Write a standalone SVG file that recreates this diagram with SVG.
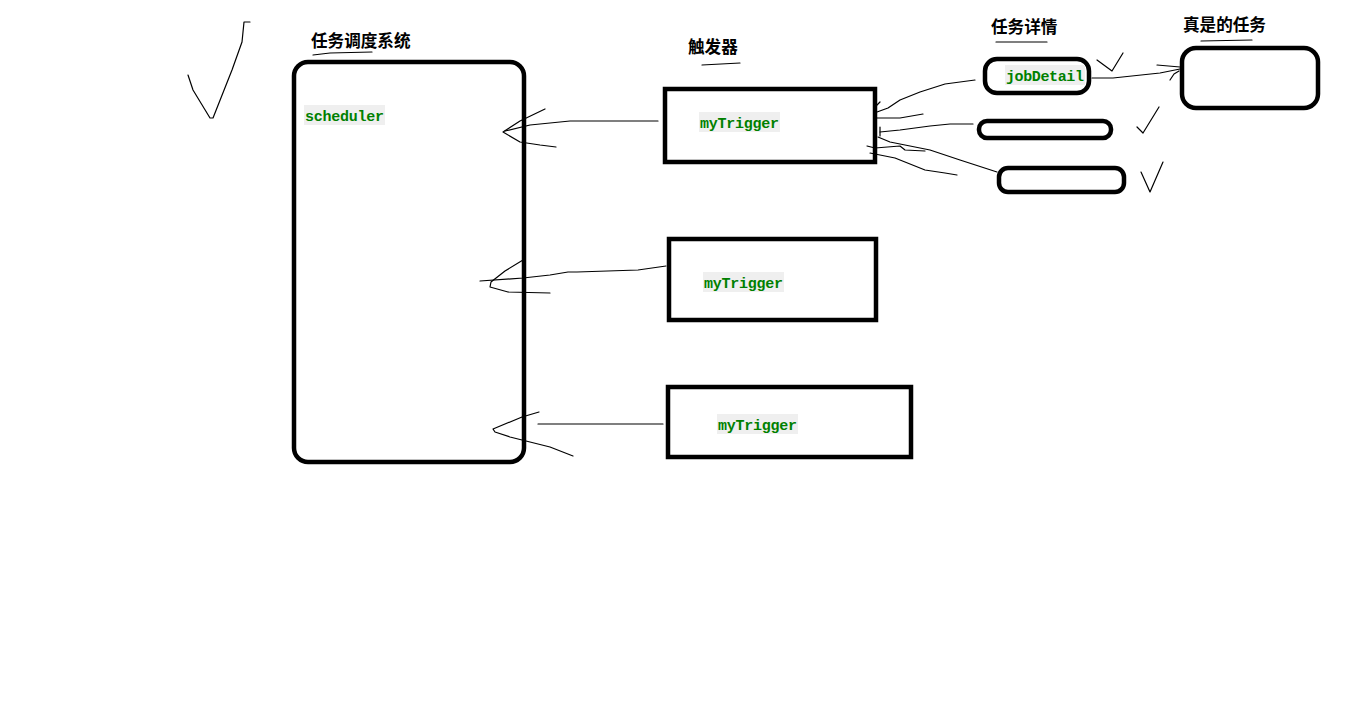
<svg xmlns="http://www.w3.org/2000/svg" width="1353" height="722" viewBox="0 0 1353 722">
<style>
.box{fill:#fff;stroke:#000;stroke-width:4.5}
.hand{fill:none;stroke:#000;stroke-width:1.2;stroke-linejoin:round;stroke-linecap:round}
.title{font-family:"Noto Sans CJK SC","Noto Sans",sans-serif;font-size:16.6px;font-weight:bold;fill:#000}
.code{font-family:"Liberation Mono","DejaVu Sans Mono",monospace;font-size:15px;font-weight:bold;fill:#008000}
.codebg{fill:#efefef}
</style>
<rect x="0" y="0" width="1353" height="722" fill="#fff"/>

<g id="check-topleft">
<path class="hand" d="M188,75 L193,90 L210,118 L213,118 L232,70 L242,42 L244,22 L250,22"/>
</g>

<g id="scheduler">
<text class="title" x="311" y="47">任务调度系统</text>
<path class="hand" d="M313,55 L330,53 L372,52"/>
<rect class="box" x="294" y="62" width="230" height="400" rx="14"/>
<rect class="codebg" x="304" y="105" width="81" height="20"/>
<text class="code" x="305" y="121" textLength="79">scheduler</text>
</g>

<g id="trigger1">
<text class="title" x="688" y="53">触发器</text>
<path class="hand" d="M702,65 L740,63"/>
<rect class="box" x="665" y="89" width="210" height="73"/>
<rect class="codebg" x="699" y="112" width="81" height="20"/>
<text class="code" x="700" y="128" textLength="79">myTrigger</text>
</g>

<g id="trigger2">
<rect class="box" x="669" y="239" width="207" height="81"/>
<rect class="codebg" x="703" y="272" width="81" height="20"/>
<text class="code" x="704" y="288" textLength="79">myTrigger</text>
</g>

<g id="trigger3">
<rect class="box" x="668" y="387" width="243" height="70"/>
<rect class="codebg" x="717" y="414" width="81" height="20"/>
<text class="code" x="718" y="430" textLength="79">myTrigger</text>
</g>

<g id="jobdetails">
<text class="title" x="991" y="33">任务详情</text>
<path class="hand" d="M996,42 L1047,42"/>
<rect class="box" x="985" y="59" width="104" height="34" rx="12"/>
<rect class="codebg" x="1005" y="65" width="80" height="20"/>
<text class="code" x="1006" y="81" textLength="78">jobDetail</text>
<rect class="box" x="979" y="121" width="132" height="17" rx="8"/>
<rect class="box" x="999" y="168" width="125" height="24" rx="9"/>
</g>

<g id="realtask">
<text class="title" x="1183" y="31">真是的任务</text>
<path class="hand" d="M1201,41 L1252,40"/>
<rect class="box" x="1182" y="48" width="136" height="60" rx="14"/>
</g>

<g id="checks">
<path class="hand" d="M1097,60 L1112,71 L1123,53"/>
<path class="hand" d="M1137,127 L1143,133 L1159,107"/>
<path class="hand" d="M1141,172 L1150,192 L1163,162"/>
</g>

<g id="connectors">
<path class="hand" d="M658,121 L600,121 L570,121 L530,125 L505,131"/>
<path class="hand" d="M545,109 L520,121 L503,132 L520,142 L540,145 L556,147"/>

<path class="hand" d="M666,266 L638,270 L577,272 L568,272 L550,275 L523,278 L480,281"/>
<path class="hand" d="M523,260 L505,271 L491,282 L490,287 L508,292 L550,293"/>

<path class="hand" d="M538,424 L663,424"/>
<path class="hand" d="M539,412 L522,417 L493,429 L495,432 L510,437 L550,447 L573,456"/>

<path class="hand" d="M877,112 L888,108 L900,100 L920,92 L945,84 L975,80"/>
<path class="hand" d="M877,105 L880,102"/>
<path class="hand" d="M877,118 L900,118 L923,114"/>
<path class="hand" d="M880,132 L900,130 L930,126 L950,124 L973,124"/>
<path class="hand" d="M880,127 L880,136"/>
<path class="hand" d="M878,137 L890,142 L905,145 L930,150 L960,160 L997,172"/>
<path class="hand" d="M867,146 L875,148 L900,146 L905,150 L925,151"/>
<path class="hand" d="M870,153 L895,158 L925,170 L945,173 L957,175"/>

<path class="hand" d="M1092,78 L1113,78 L1160,73 L1180,69"/>
<path class="hand" d="M1157,65 L1180,67"/>
<path class="hand" d="M1170,80 L1174,74 L1179,71"/>
</g>
</svg>
